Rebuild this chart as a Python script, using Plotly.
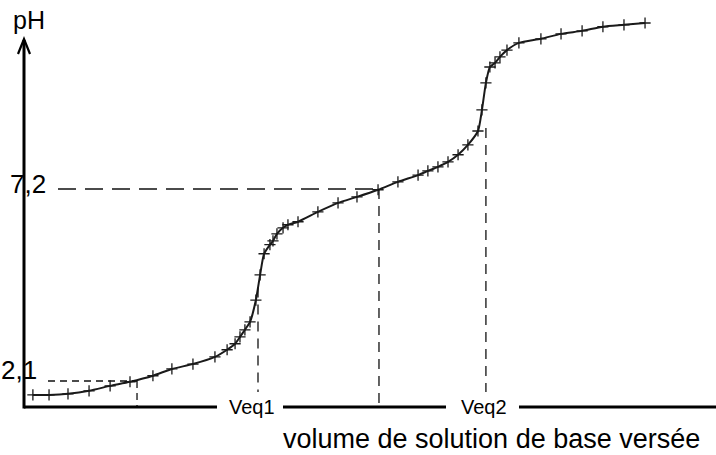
import plotly.graph_objects as go

# ---- data (volume in mL, pH) ----
volume = [0.38, 1.07, 1.88, 2.78, 3.68, 4.53, 5.51, 6.32, 7.22, 8.16, 8.68, 9.02, 9.23, 9.44,
          9.66, 9.91, 10.09, 10.26, 10.51, 10.64, 10.81, 11.07, 11.28, 11.71, 12.56, 13.42,
          14.23, 15.13, 15.98, 16.84, 17.26, 17.69, 18.12, 18.55, 18.97, 19.40, 19.57, 19.74,
          19.91, 20.13, 20.34, 20.64, 21.15, 22.09, 22.95, 23.85, 24.74, 25.64, 26.54]
ph = [1.73, 1.73, 1.76, 1.84, 1.97, 2.08, 2.24, 2.42, 2.55, 2.74, 2.93, 3.09, 3.27, 3.46,
      3.67, 4.25, 4.92, 5.48, 5.72, 5.82, 6.01, 6.17, 6.25, 6.33, 6.59, 6.83,
      6.99, 7.18, 7.39, 7.57, 7.68, 7.79, 7.92, 8.11, 8.37, 8.74, 9.30, 10.02,
      10.44, 10.55, 10.71, 10.89, 11.08, 11.19, 11.32, 11.40, 11.51, 11.56, 11.61]

v_half1, ph_half1 = 4.83, 2.1
v_eq1 = 10.0
v_half2, ph_half2 = 15.17, 7.2
v_eq2 = 19.74

tick_labels = ["2,1", "7,2"]
eq_labels = ["Veq1", "Veq2"]
x_title = "volume de solution de base versée"
y_title = "pH"

# ---- layout geometry (pixels of 716x455 canvas) ----
W, H = 716, 455
X0, PXV = 24, 23.4          # pixel of V=0, px per mL
Y21, PXPH = 381, 37.647     # pixel of pH 2.1, px per pH unit
x_rng = [(0 - X0) / PXV, (W - X0) / PXV]
y_rng = [2.1 + (Y21 - H) / PXPH, 2.1 + Y21 / PXPH]
def vx(px): return (px - X0) / PXV
def py(pix): return 2.1 + (Y21 - pix) / PXPH

v_axis = vx(X0)
ph_axis = py(407)

fig = go.Figure()
fig.add_trace(go.Scatter(
    x=volume, y=ph, mode="lines+markers",
    line=dict(color="#1a1a1a", width=2, shape="spline", smoothing=0.6),
    marker=dict(symbol="cross-thin", size=8, line=dict(color="#1a1a1a", width=1.3)),
    hoverinfo="skip", showlegend=False))

def interp(v):
    for i in range(len(volume) - 1):
        if volume[i] <= v <= volume[i + 1]:
            t = (v - volume[i]) / (volume[i + 1] - volume[i])
            return ph[i] + t * (ph[i + 1] - ph[i])
    return ph[-1]

shapes = []
dcol = "#111"
dw = 1.3
# half-equivalence 1
shapes.append(dict(type="line", x0=vx(48), x1=v_half1, y0=ph_half1, y1=ph_half1,
                   line=dict(color=dcol, width=dw, dash="7px,5px")))
shapes.append(dict(type="line", x0=v_half1, x1=v_half1, y0=ph_half1, y1=ph_axis,
                   line=dict(color=dcol, width=dw, dash="7px,5px")))
# half-equivalence 2
shapes.append(dict(type="line", x0=vx(58), x1=v_half2, y0=ph_half2, y1=ph_half2,
                   line=dict(color=dcol, width=dw, dash="18px,9px")))
shapes.append(dict(type="line", x0=v_half2, x1=v_half2, y0=ph_half2, y1=ph_axis,
                   line=dict(color=dcol, width=dw, dash="10px,7px")))
# equivalence verticals
shapes.append(dict(type="line", x0=v_eq1, x1=v_eq1, y0=interp(v_eq1), y1=py(392),
                   line=dict(color=dcol, width=dw, dash="10px,7px")))
shapes.append(dict(type="line", x0=v_eq2, x1=v_eq2, y0=py(128), y1=py(392),
                   line=dict(color=dcol, width=dw, dash="10px,7px")))
# x axis with gaps around Veq labels
axc = "#000"
for a, b in [(X0, 217), (283, 446), (519, W)]:
    shapes.append(dict(type="line", x0=vx(a), x1=vx(b), y0=ph_axis, y1=ph_axis,
                       line=dict(color=axc, width=3)))
# y axis with arrow
shapes.append(dict(type="line", x0=v_axis, x1=v_axis, y0=ph_axis - 0.04, y1=py(40),
                   line=dict(color=axc, width=3)))
shapes.append(dict(type="path",
                   path=f"M {vx(18)},{py(54)} L {vx(24)},{py(39)} L {vx(30)},{py(54)}",
                   line=dict(color=axc, width=2.2)))

font = "Liberation Sans, Arial, sans-serif"
ann = []
ann.append(dict(x=vx(11), y=py(20), text=y_title, xanchor="left", yanchor="middle",
                showarrow=False, font=dict(family=font, size=25, color="#000")))
ann.append(dict(x=vx(39), y=py(370), text=tick_labels[0], xanchor="right", yanchor="middle",
                showarrow=False, font=dict(family=font, size=26, color="#000")))
ann.append(dict(x=vx(48), y=py(184), text=tick_labels[1], xanchor="right", yanchor="middle",
                showarrow=False, font=dict(family=font, size=26, color="#000")))
ann.append(dict(x=vx(252), y=py(407), text=eq_labels[0], xanchor="center", yanchor="middle",
                showarrow=False, font=dict(family=font, size=20, color="#000")))
ann.append(dict(x=vx(484), y=py(407), text=eq_labels[1], xanchor="center", yanchor="middle",
                showarrow=False, font=dict(family=font, size=20, color="#000")))
ann.append(dict(x=vx(491), y=py(439), text=x_title, xanchor="center", yanchor="middle",
                showarrow=False, font=dict(family=font, size=27, color="#000")))

fig.update_layout(
    width=W, height=H, margin=dict(l=0, r=0, t=0, b=0),
    paper_bgcolor="white", plot_bgcolor="white",
    xaxis=dict(range=x_rng, visible=False, fixedrange=True),
    yaxis=dict(range=y_rng, visible=False, fixedrange=True),
    shapes=shapes, annotations=ann, showlegend=False)

fig.write_html("out.html", config={"displayModeBar": False})
